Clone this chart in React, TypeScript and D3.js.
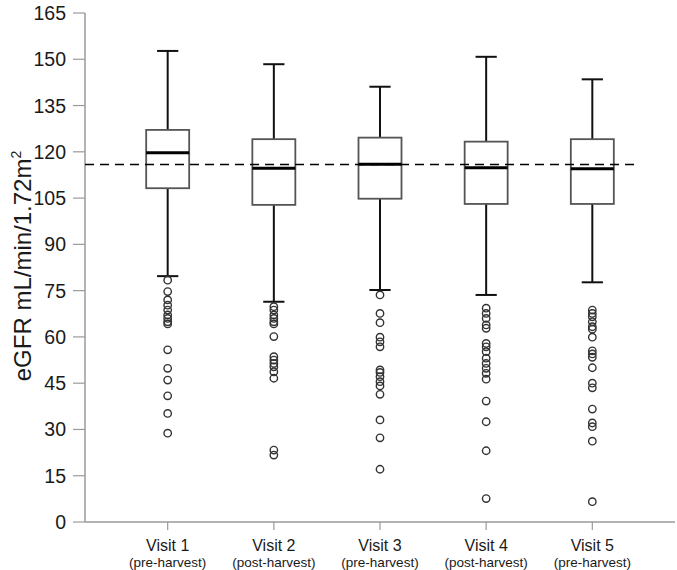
import React from 'react';
import * as d3 from 'd3';

const categories = ['Visit 1', 'Visit 2', 'Visit 3', 'Visit 4', 'Visit 5'];
const subLabels = ['(pre-harvest)', '(post-harvest)', '(pre-harvest)', '(post-harvest)', '(pre-harvest)'];
const whiskerLow = [79.7, 71.4, 75.2, 73.6, 77.7];
const q1 = [108.2, 102.8, 104.8, 103.1, 103.1];
const median = [119.7, 114.7, 116.0, 114.8, 114.5];
const q3 = [127.1, 124.1, 124.6, 123.3, 124.1];
const whiskerHigh = [152.7, 148.4, 141.1, 150.8, 143.5];
const outliers1 = [78.4, 74.7, 72.0, 70.3, 68.7, 67.1, 66.0, 64.9, 64.2, 55.8, 49.8, 46.0, 40.9, 35.2, 28.8];
const outliers2 = [69.8, 68.7, 67.1, 66.0, 64.9, 64.2, 60.1, 53.6, 52.5, 51.4, 50.3, 48.7, 46.6, 23.3, 21.7];
const outliers3 = [73.6, 67.6, 64.6, 59.9, 58.4, 56.8, 49.3, 48.5, 47.1, 45.5, 44.1, 41.4, 33.1, 27.3, 17.1];
const outliers4 = [69.3, 67.6, 66.0, 63.9, 62.8, 57.9, 56.8, 55.2, 53.1, 51.4, 49.8, 48.2, 46.3, 39.2, 32.5, 23.1, 7.6];
const outliers5 = [68.7, 67.6, 66.5, 64.9, 63.3, 62.5, 59.9, 55.5, 54.5, 53.4, 50.0, 45.0, 43.5, 36.6, 32.1, 30.9, 26.2, 6.6];
const outliers = [outliers1, outliers2, outliers3, outliers4, outliers5];
const referenceLine = 115.9;
const yTicks = [0, 15, 30, 45, 60, 75, 90, 105, 120, 135, 150, 165];

const W = 677;
const H = 570;
const axisX = 85;
const axisY = 522;

export default function App() {
  const y = d3.scaleLinear().domain([0, 165]).range([axisY, 13]);
  const x = d3.scaleBand<string>().domain(categories).range([114.6, 645.4]).paddingInner(0).paddingOuter(0);
  const bw = x.bandwidth() * 0.405;
  const cw = x.bandwidth() * 0.2;
  const font = 'Liberation Sans, Arial, sans-serif';
  const axisColor = '#9a9a9a';

  return (
    <svg width={W} height={H} style={{ position: 'absolute', left: 0, top: 0, background: '#fff' }} fontFamily={font}>
      <rect x={0} y={0} width={W} height={H} fill="#fff" />
      {/* y axis */}
      <line x1={axisX} x2={axisX} y1={y(165)} y2={axisY} stroke={axisColor} strokeWidth={1.5} />
      {yTicks.map((t) => (
        <g key={t}>
          <line x1={axisX - 12} x2={axisX} y1={y(t)} y2={y(t)} stroke={axisColor} strokeWidth={1.2} />
          <text x={axisX - 19} y={y(t)} dy="0.36em" textAnchor="end" fontSize={19.5} fill="#1a1a1a">{t}</text>
        </g>
      ))}
      {/* x axis */}
      <line x1={axisX} x2={675} y1={axisY} y2={axisY} stroke={axisColor} strokeWidth={1.5} />
      {categories.map((c, i) => {
        const cx = (x(c) as number) + x.bandwidth() / 2;
        return (
          <g key={c}>
            <line x1={cx} x2={cx} y1={axisY} y2={axisY + 8} stroke={axisColor} strokeWidth={1.2} />
            <text x={cx} y={551} textAnchor="middle" fontSize={16} fill="#1a1a1a">{c}</text>
            <text x={cx} y={567} textAnchor="middle" fontSize={13.5} fill="#1a1a1a">{subLabels[i]}</text>
          </g>
        );
      })}
      {/* y title */}
      <text transform={`translate(31,${266}) rotate(-90)`} textAnchor="middle" fontSize={24} fill="#1a1a1a">
        eGFR mL/min/1.72m<tspan fontSize={14} dy="-10">2</tspan>
      </text>
      {/* boxes */}
      {categories.map((c, i) => {
        const cx = (x(c) as number) + x.bandwidth() / 2;
        return (
          <g key={c}>
            <line x1={cx} x2={cx} y1={y(whiskerHigh[i])} y2={y(q3[i])} stroke="#111" strokeWidth={2} />
            <line x1={cx} x2={cx} y1={y(q1[i])} y2={y(whiskerLow[i])} stroke="#111" strokeWidth={2} />
            <line x1={cx - cw / 2} x2={cx + cw / 2} y1={y(whiskerHigh[i])} y2={y(whiskerHigh[i])} stroke="#111" strokeWidth={2} />
            <line x1={cx - cw / 2} x2={cx + cw / 2} y1={y(whiskerLow[i])} y2={y(whiskerLow[i])} stroke="#111" strokeWidth={2} />
            <rect x={cx - bw / 2} y={y(q3[i])} width={bw} height={y(q1[i]) - y(q3[i])} fill="#fff" stroke="#555" strokeWidth={1.8} />
            <line x1={cx - bw / 2} x2={cx + bw / 2} y1={y(median[i])} y2={y(median[i])} stroke="#000" strokeWidth={3} />
            {outliers[i].map((v, j) => (
              <circle key={j} cx={cx} cy={y(v)} r={3.7} fill="none" stroke="#333" strokeWidth={1.4} />
            ))}
          </g>
        );
      })}
      {/* reference line */}
      <line x1={axisX} x2={636} y1={y(referenceLine)} y2={y(referenceLine)} stroke="#000" strokeWidth={1.5} strokeDasharray="9,6" />
    </svg>
  );
}
